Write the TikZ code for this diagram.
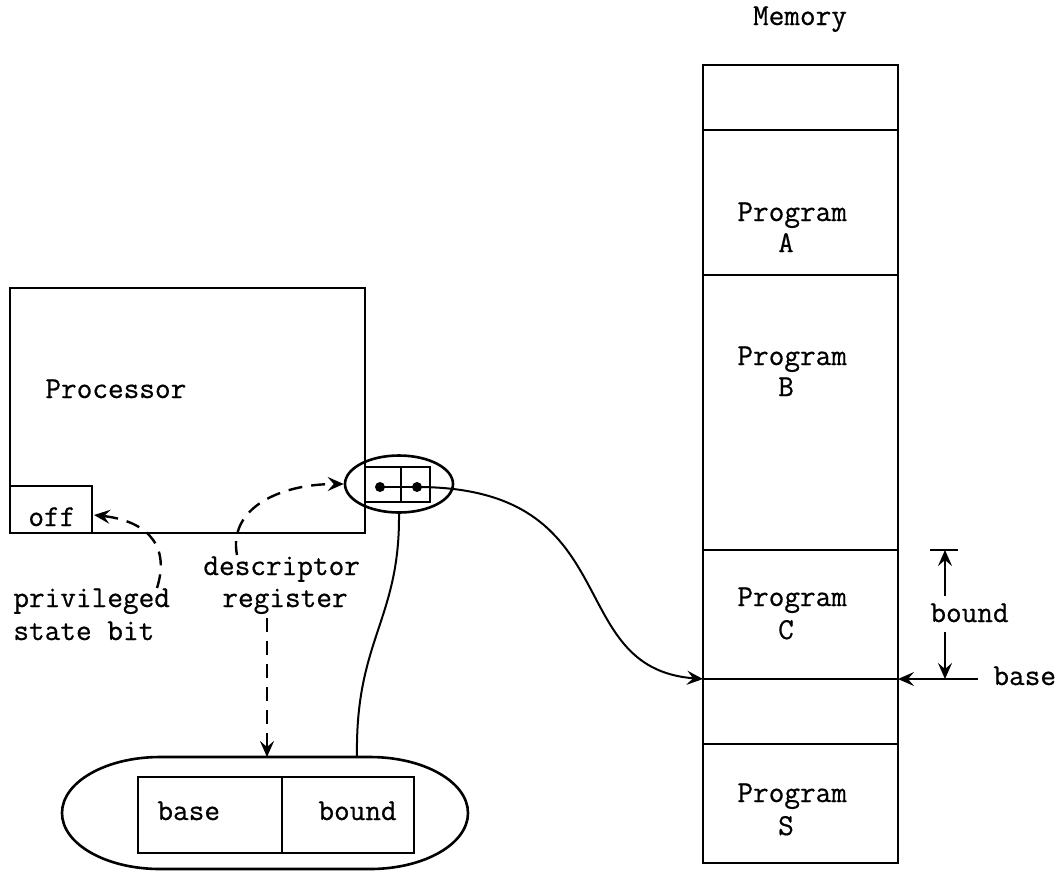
\documentclass[tikz,border=0pt]{standalone}
\usepackage{fontspec}
\newfontfamily\tw[FakeBold=0.6]{Latin Modern Mono}
\usetikzlibrary{arrows.meta,shapes.geometric}
\begin{document}
\begin{tikzpicture}[x=0.5pt,y=-0.5pt,
  box/.style={draw,line width=1.3pt},
  lbl/.style={font=\fontsize{15.2}{16}\selectfont\tw,inner sep=0pt},
  conn/.style={line width=1pt},
  dsh/.style={line width=1.2pt,dash pattern=on 7pt off 4.5pt},
  tip/.style={-{Stealth[length=8pt,width=7pt,inset=3pt]}}
]
\useasboundingbox (0,0) rectangle (1061,875);

% ---------------- Memory ----------------
\node[lbl,anchor=base] (memlbl) at (800,25) {Memory};
\draw[box] (703,65) rectangle (898,863);
\foreach \yy in {130,275,550,679,744} \draw[box] (703,\yy) -- (898,\yy);
\coordinate (baseL) at (703,679);
\coordinate (baseR) at (898,679);

\node[lbl,anchor=base west] (pA1) at (737,221) {Program};
\node[lbl,anchor=base] (pA2) at (786,252) {A};
\node[lbl,anchor=base west] (pB1) at (737,365) {Program};
\node[lbl,anchor=base] (pB2) at (786,396) {B};
\node[lbl,anchor=base west] (pC1) at (737,606) {Program};
\node[lbl,anchor=base] (pC2) at (786,639) {C};
\node[lbl,anchor=base west] (pS1) at (737,802) {Program};
\node[lbl,anchor=base] (pS2) at (786,835) {S};

% bound dimension
\coordinate (bT) at (945,550);
\coordinate (bB) at (945,679);
\draw[box] (930,550) -- (958,550);
\node[lbl,anchor=base west] (boundlbl) at (930,622) {bound};
\coordinate (bUp) at (945,596);
\coordinate (bDn) at (945,632);
\draw[conn,tip] (bUp) -- (bT);
\draw[conn,tip] (bDn) -- (bB);

% base pointer
\node[lbl,anchor=base west] (baselbl) at (993,685) {base};
\coordinate (bStart) at (978,679);
\draw[conn,tip] (bStart) -- (baseR);

% ---------------- Processor ----------------
\draw[box] (10,288) rectangle (365,533);
\node[lbl,anchor=base west] (proc) at (45,398) {Processor};
\draw[box] (10,486) rectangle (92,533);
\node[lbl,anchor=base west] (off) at (28,526) {off};
\coordinate (offR) at (94,515);

% descriptor register
\node[draw,ellipse,line width=1.3pt,minimum width=54pt,minimum height=28.5pt,inner sep=0pt] (ell) at (399,484) {};
\draw[box] (365,467) rectangle (430,502);
\draw[box] (401,467) -- (401,502);
\coordinate (d1) at (380,487);
\coordinate (d2) at (417,487);
\fill (d1) circle[radius=5];
\fill (d2) circle[radius=5];
\draw[conn] (d1) -- (d2);
\draw[conn,tip] (d2) .. controls (630,487) and (560,668) .. (baseL);

% labels
\node[lbl,anchor=base west] (priv1) at (13,607) {privileged};
\node[lbl,anchor=base west] (priv2) at (13,640) {state bit};
\node[lbl,anchor=base west] (desc1) at (203,575) {descriptor};
\node[lbl,anchor=base west] (desc2) at (222,607) {register};

% dashed arrows
\coordinate (descTop) at (237,555);
\coordinate (privTop) at (157,588);
\draw[dsh,tip] (descTop) .. controls (228,508) and (280,484) .. (ell.west);
\draw[dsh,tip] (privTop) .. controls (172,540) and (140,520) .. (offR);
\coordinate (regBot) at (267,618);
\coordinate (ovArr) at (267,757);
\draw[dsh,tip] (regBot) -- (ovArr);

% ---------------- bottom oval ----------------
\draw[box] (160,757) -- (370,757)
  .. controls (424,757) and (468,782) .. (468,813)
  .. controls (468,844) and (424,869) .. (370,869)
  -- (160,869)
  .. controls (106,869) and (62,844) .. (62,813)
  .. controls (62,782) and (106,757) .. (160,757) -- cycle;
\coordinate (ovTop) at (357,757);
\draw[conn] (ell.south) .. controls (400,620) and (355,640) .. (ovTop);

\draw[box] (138,777) rectangle (414,853);
\draw[box] (282,777) -- (282,853);
\node[lbl,anchor=base west] (regbase) at (157,820) {base};
\node[lbl,anchor=base west] (regbound) at (318,820) {bound};
\end{tikzpicture}
\end{document}
